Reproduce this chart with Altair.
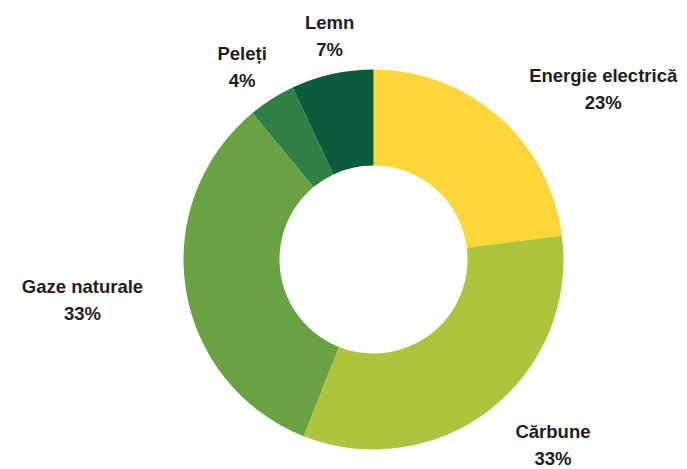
import altair as alt
import pandas as pd

categories = ["Energie electrică", "Cărbune", "Gaze naturale", "Peleți", "Lemn"]
values = [23, 33, 33, 4, 7]
colors = ["#FDD73A", "#ADC43C", "#69A242", "#2F7F46", "#0A5C3B"]

df = pd.DataFrame({
    "name": categories,
    "value": values,
    "idx": list(range(len(categories))),
})

color_scale = alt.Scale(domain=categories, range=colors)

base = alt.Chart(df).transform_window(
    cum="sum(value)", sort=[alt.SortField("idx")], frame=[None, 0]
).transform_calculate(
    mid="datum.cum - datum.value / 2",
    label="datum.name + '\\n' + datum.value + '%'",
)

arcs = base.mark_arc(outerRadius=190, innerRadius=94, strokeWidth=0).encode(
    theta=alt.Theta("value:Q", stack=True),
    color=alt.Color("name:N", scale=color_scale, legend=None),
    order=alt.Order("idx:Q"),
)

labels = base.mark_text(
    font="Liberation Sans",
    fontSize=18.5,
    fontWeight="bold",
    color="#1e1e1e",
    lineBreak="\n",
    lineHeight=27,
    align="center",
    baseline="middle",
    radius=234,
    dy=alt.expr("-8 + 6 * min(0, cos(2 * PI * datum.mid / 100))"),
    dx=alt.expr("12 + sin(2 * PI * datum.mid / 100) * length(datum.name) * 5.6"),
).encode(
    theta=alt.Theta("mid:Q", stack=False,
                    scale=alt.Scale(domain=[0, 100], range=[0, 6.283185307179586])),
    text="label:N",
)

chart = alt.layer(arcs, labels).properties(
    width=611,
    height=403,
    padding={"left": 60, "top": 50, "right": 0, "bottom": 8},
    autosize="none",
    background="white",
).configure_view(stroke=None)

chart.save("out.html", embed_options={"renderer": "svg", "actions": False})
